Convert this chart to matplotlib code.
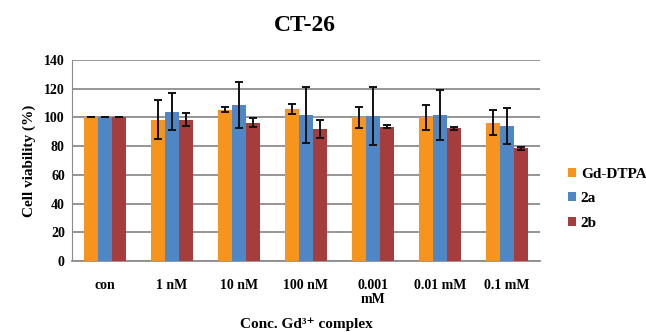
import numpy as np
import matplotlib.pyplot as plt

categories = ['con', '1 nM', '10 nM', '100 nM', '0.001\nmM', '0.01 mM', '0.1 mM']
series_names = ['Gd-DTPA', '2a', '2b']
gd_dtpa = [100, 98.5, 105.5, 106, 100, 100, 96.5]
gd_dtpa_err = [0, 13.5, 2, 3.5, 7.5, 9, 8.5]
v2a = [100, 104, 109, 102, 101, 102, 94]
v2a_err = [0, 13, 16, 19.5, 20, 17.5, 12.5]
v2b = [100, 98.5, 96.5, 92, 93.5, 92.5, 78.5]
v2b_err = [0, 4.5, 3, 6, 1, 1, 1]

colors = ['#F7941D', '#4F86C6', '#A63D3D']

plt.rcParams['font.family'] = ['Liberation Serif', 'DejaVu Serif']
plt.rcParams['font.weight'] = 'bold'

fig = plt.figure(figsize=(6.46, 3.32), dpi=100)
ax = fig.add_axes([0.111, 0.214, 0.725, 0.605])

x = np.arange(len(categories))
w = 0.21
data = [(gd_dtpa, gd_dtpa_err), (v2a, v2a_err), (v2b, v2b_err)]
for i, (vals, errs) in enumerate(data):
    ax.bar(x + (i - 1) * w, vals, w, yerr=errs, color=colors[i], label=series_names[i],
           error_kw=dict(ecolor='#111111', elinewidth=1.4, capsize=3, capthick=1.4), zorder=3)

ax.set_ylim(0, 140)
ax.set_yticks(range(0, 141, 20))
ax.set_xlim(-0.5, len(categories) - 0.5)
ax.set_xticks(x)
ax.set_xticklabels(categories, fontsize=10, fontweight='bold', linespacing=1.1)
ax.tick_params(axis='y', labelsize=10, length=0, pad=5)
ax.tick_params(axis='x', length=0, pad=13)
ax.yaxis.grid(True, color='#8c8c8c', linewidth=1.3, zorder=0)
ax.set_axisbelow(True)
for s in ['top', 'right']:
    ax.spines[s].set_visible(False)
ax.spines['left'].set_color('#8c8c8c')
ax.spines['bottom'].set_color('#8c8c8c')
ax.spines['bottom'].set_linewidth(1.3)

ax.set_ylabel('Cell viability (%)', fontsize=11, fontweight='bold', labelpad=6)
ax.set_xlabel('Conc. Gd³⁺ complex', fontsize=11, fontweight='bold', labelpad=8)
fig.suptitle('CT-26', x=0.472, y=0.955, fontsize=17, fontweight='bold')

ax.legend(loc='center left', bbox_to_anchor=(1.03, 0.31), frameon=False, fontsize=11,
          handlelength=0.55, handleheight=0.55, handletextpad=0.3, labelspacing=0.75)

fig.savefig('out.png', dpi=100)
